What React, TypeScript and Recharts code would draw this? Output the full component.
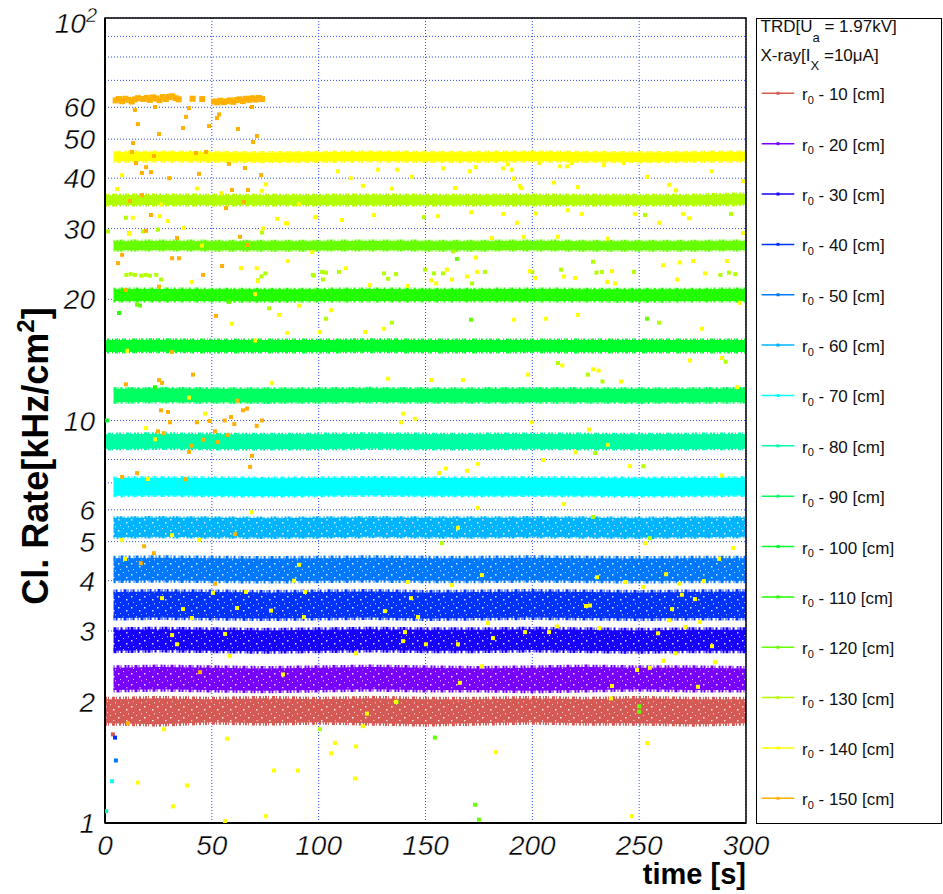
import React from 'react';
import { ComposedChart, Area, Scatter, XAxis, YAxis, CartesianGrid, ReferenceArea, Legend } from 'recharts';

const FONT = '"Liberation Sans", Arial, Helvetica, sans-serif';

const radii = [10, 20, 30, 40, 50, 60, 70, 80, 90, 100, 110, 120, 130, 140, 150];
const colors = ['#d55a55', '#7800ff', '#1800ff', '#0033ff', '#0078ff', '#00b4ff', '#00ffff', '#00ffa5', '#00ff60', '#00ff2a', '#22ff00', '#66ff00', '#b2ff00', '#ffff00', '#ffb000'];

const xMajor = [0, 50, 100, 150, 200, 250, 300];
const xMinor = [10, 20, 30, 40, 60, 70, 80, 90, 110, 120, 130, 140, 160, 170, 180, 190, 210, 220, 230, 240, 260, 270, 280, 290];
const yTicks = [1, 2, 3, 4, 5, 6, 7, 8, 9, 10, 20, 30, 40, 50, 60, 70, 80, 90, 100];
const yLabelled = [1, 2, 3, 4, 5, 6, 10, 20, 30, 40, 50, 60, 100];

// band envelopes (low / high) at these times
const times = [0, 4, 25, 50, 75, 100, 125, 150, 175, 200, 225, 250, 275, 300];
const low10 = [1.77, 1.77, 1.76, 1.78, 1.77, 1.78, 1.77, 1.76, 1.77, 1.78, 1.77, 1.77, 1.76, 1.77];
const high10 = [2.03, 2.03, 2.04, 2.03, 2.04, 2.03, 2.04, 2.03, 2.03, 2.04, 2.03, 2.04, 2.03, 2.03];
const low20 = [null, 2.14, 2.15, 2.14, 2.13, 2.14, 2.15, 2.14, 2.14, 2.13, 2.14, 2.15, 2.14, 2.14];
const high20 = [null, 2.43, 2.44, 2.43, 2.42, 2.43, 2.44, 2.43, 2.42, 2.43, 2.44, 2.43, 2.43, 2.42];
const low30 = [null, 2.68, 2.69, 2.68, 2.67, 2.68, 2.69, 2.68, 2.68, 2.69, 2.68, 2.67, 2.68, 2.68];
const high30 = [null, 3.02, 3.03, 3.02, 3.01, 3.02, 3.03, 3.02, 3.02, 3.03, 3.02, 3.01, 3.02, 3.02];
const low40 = [null, 3.23, 3.24, 3.23, 3.22, 3.23, 3.24, 3.22, 3.23, 3.24, 3.23, 3.22, 3.23, 3.23];
const high40 = [null, 3.75, 3.76, 3.75, 3.74, 3.75, 3.76, 3.74, 3.75, 3.76, 3.75, 3.74, 3.75, 3.76];
const low50 = [null, 4.0, 4.01, 4.0, 3.99, 4.0, 4.01, 4.0, 4.0, 4.01, 4.0, 3.99, 4.0, 4.0];
const high50 = [null, 4.55, 4.56, 4.55, 4.54, 4.55, 4.56, 4.55, 4.55, 4.56, 4.55, 4.54, 4.55, 4.55];
const low60 = [null, 5.13, 5.14, 5.13, 5.12, 5.13, 5.14, 5.13, 5.13, 5.14, 5.13, 5.12, 5.13, 5.14];
const high60 = [null, 5.73, 5.74, 5.73, 5.72, 5.73, 5.74, 5.73, 5.73, 5.74, 5.73, 5.72, 5.73, 5.74];
const low70 = [null, 6.5, 6.51, 6.5, 6.49, 6.5, 6.52, 6.5, 6.5, 6.51, 6.5, 6.49, 6.5, 6.51];
const high70 = [null, 7.2, 7.21, 7.2, 7.19, 7.2, 7.22, 7.2, 7.2, 7.21, 7.2, 7.19, 7.2, 7.21];
const low80 = [8.5, 8.5, 8.52, 8.5, 8.49, 8.5, 8.52, 8.5, 8.5, 8.51, 8.5, 8.49, 8.5, 8.51];
const high80 = [9.25, 9.25, 9.27, 9.25, 9.24, 9.25, 9.27, 9.25, 9.25, 9.26, 9.25, 9.24, 9.25, 9.26];
const low90 = [null, 11.1, 11.12, 11.1, 11.09, 11.1, 11.12, 11.1, 11.1, 11.11, 11.1, 11.09, 11.1, 11.11];
const high90 = [null, 12.0, 12.02, 12.0, 11.99, 12.0, 12.02, 12.0, 12.0, 12.01, 12.0, 11.99, 12.0, 12.01];
const low100 = [14.8, 14.8, 14.82, 14.8, 14.79, 14.8, 14.82, 14.8, 14.8, 14.81, 14.8, 14.79, 14.8, 14.8];
const high100 = [15.85, 15.85, 15.87, 15.85, 15.84, 15.85, 15.87, 15.85, 15.85, 15.86, 15.85, 15.84, 15.85, 15.85];
const low110 = [null, 19.8, 19.82, 19.8, 19.79, 19.8, 19.82, 19.8, 19.8, 19.81, 19.8, 19.79, 19.8, 19.81];
const high110 = [null, 21.2, 21.22, 21.2, 21.19, 21.2, 21.22, 21.2, 21.2, 21.21, 21.2, 21.19, 21.2, 21.21];
const low120 = [null, 26.5, 26.52, 26.5, 26.49, 26.5, 26.52, 26.5, 26.5, 26.51, 26.5, 26.49, 26.5, 26.51];
const high120 = [null, 27.9, 27.92, 27.9, 27.89, 27.9, 27.92, 27.9, 27.9, 27.91, 27.9, 27.89, 27.9, 27.91];
const low130 = [34.3, 34.3, 34.32, 34.3, 34.29, 34.3, 34.32, 34.3, 34.3, 34.31, 34.3, 34.29, 34.3, 34.4];
const high130 = [36.3, 36.3, 36.32, 36.3, 36.29, 36.3, 36.32, 36.3, 36.3, 36.31, 36.3, 36.29, 36.3, 36.6];
const low140 = [null, 44.0, 44.1, 44.0, 43.9, 44.0, 44.1, 44.0, 44.0, 44.1, 44.0, 43.9, 44.0, 44.1];
const high140 = [null, 46.4, 46.5, 46.4, 46.3, 46.4, 46.5, 46.4, 46.4, 46.5, 46.4, 46.3, 46.4, 46.5];

const bandLows = [low10, low20, low30, low40, low50, low60, low70, low80, low90, low100, low110, low120, low130, low140];
const bandHighs = [high10, high20, high30, high40, high50, high60, high70, high80, high90, high100, high110, high120, high130, high140];

// r0 - 150 cm: short band (time, rate)
const band150T = [5, 6.5, 8, 9.5, 11, 12.5, 14, 15.5, 18, 19.5, 21, 22.5, 24, 25.5, 27, 28.5, 30, 31.5, 33, 34.5, 41, 45.5, 51, 52.5, 54, 55.5, 57, 58.5, 60, 61.5, 63, 64.5, 66, 67.5, 69, 70.5, 72, 73.5];
const band150V = [62.4, 62.9, 62.1, 63.0, 62.6, 62.0, 62.8, 63.2, 62.9, 63.3, 62.6, 63.5, 63.1, 62.5, 63.6, 62.9, 63.7, 63.9, 63.2, 62.8, 63.0, 62.9, 62.0, 61.7, 62.3, 61.8, 62.1, 62.4, 61.9, 62.5, 62.8, 62.2, 63.0, 62.6, 63.2, 62.7, 63.3, 62.9];

// isolated points [time, rate]
const stray150 = [[14.0,59.1],[15.4,54.5],[23.4,60.1],[25.3,51.5],[13.1,48.9],[12.6,46.5],[22.9,45.4],[14.5,43.6],[17.3,41.2],[19.2,42.6],[21.5,41.4],[30.0,40.0],[37.9,56.8],[36.5,53.3],[39.3,59.7],[48.7,53.9],[52.4,56.4],[53.4,57.6],[62.2,53.0],[71.1,50.9],[69.3,49.2],[68.8,60.1],[44.0,41.0],[47.3,46.5],[42.6,46.2],[58.0,43.4],[65.5,42.4],[73.0,40.7],[17.3,36.3],[11.7,35.1],[21.5,32.4],[19.2,29.6],[33.7,28.4],[31.4,25.3],[34.6,25.3],[8.0,25.8],[6.1,24.6],[45.9,23.0],[54.8,24.2],[59.4,37.4],[66.9,37.4],[56.6,33.7],[63.2,28.6],[66.9,27.3],[65.0,34.9],[25.3,21.5],[9.8,21.1],[51.9,18.2],[31.4,14.8],[41.2,13.0],[25.3,12.6],[26.7,12.4],[9.8,12.3],[26.2,10.6],[29.5,10.5],[30.4,9.9],[24.8,9.4],[27.5,9.3],[43.0,9.9],[49.0,9.97],[51.5,9.4],[56.0,10.0],[59.0,10.2],[60.5,9.8],[57.6,9.2],[64.6,10.6],[66.5,10.7],[73.5,10.0],[71.0,9.7],[68.8,8.17],[67.9,7.67],[61.8,11.2],[52.9,8.84],[45.9,8.96],[40.7,8.66],[39.3,8.36],[8.0,7.24],[15.0,7.4],[37.9,7.15],[18.3,4.87],[22.9,4.68],[16.8,4.42],[60.8,5.22],[51.5,3.93],[44.5,2.37],[10.8,1.77]];
const stray140 = [[109,41.6],[127.8,42.0],[136.7,42.0],[115,40.0],[120.7,38.3],[134.3,37.7],[143.7,40.3],[158.2,42.3],[170.8,41.6],[173.6,42.6],[186.3,42.3],[188.6,43.3],[190.5,42.0],[191.4,39.9],[194.2,38.3],[194.7,37.8],[163.8,37.8],[203.1,43.6],[210.1,39.0],[213,42.8],[216.2,42.8],[218.6,43.6],[221.4,38.0],[233.5,43.1],[242.9,43.6],[253.7,40.3],[264,38.5],[267.2,37.3],[284,41.6],[298.6,39.3],[5.6,37.6],[8,40.7],[13,31.9],[11.3,29.2],[26.2,34.4],[29.5,31.3],[37,30.1],[43,37.7],[54.3,36.7],[45.4,27.2],[40.7,22.1],[71,23.9],[73.5,37.2],[75.4,38.6],[84.7,30.9],[97,26.2],[98.3,32.0],[112.8,23.9],[124,21.7],[141.8,21.6],[152.6,22.3],[155,21.9],[160,23.7],[162.4,22.4],[169.4,22.8],[173.6,25.4],[174.1,23.4],[198.9,23.5],[201.2,22.6],[214.8,22.8],[220,22.6],[235,22.1],[237.3,23.5],[238.7,21.9],[261.2,24.3],[269,24.7],[275.2,24.9],[267.7,22.4],[280.8,23.2],[291,24.9],[85.6,24.9],[63.6,23.9],[71.6,22.2],[98.8,32.0],[110.9,31.5],[125.9,32.4],[155.8,32.2],[171.3,32.9],[186.3,32.6],[192.8,31.0],[201.7,32.7],[216.7,33.3],[223.2,32.6],[248,32.6],[259.3,31.0],[270.5,32.6],[273.3,31.8],[298.6,29.2],[196,28.6],[181.1,28.4],[212,28.6],[235.4,28.3],[73.9,30.0],[80.5,31.7],[85.2,30.9],[90.8,34.5],[25.7,32.2],[11.2,29.1],[100.6,16.6],[105.8,18.8],[121.7,16.6],[130.6,16.9],[191.4,17.8],[206.4,17.9],[221.4,18.3],[279.4,16.9],[297.2,19.6],[70.2,20.6],[81.4,18.3],[90.8,19.3],[85.2,16.5],[59.4,17.4],[70.2,15.8],[78.2,12.4],[10.3,14.9],[132.5,12.7],[152.6,12.6],[167.5,12.6],[198,13.0],[228.4,13.4],[231,13.3],[241.5,12.5],[273.8,14.1],[288.8,14.3],[295.8,12.1],[214,13.7],[39.3,11.4],[139.5,10.4],[138.5,9.9],[145,10.1],[199.8,9.9],[226.5,9.5],[46.8,10.4],[23.4,8.98],[19.2,9.57],[220.4,8.34],[235.4,8.7],[205,7.98],[245.7,7.7],[174.6,7.8],[169.4,7.5],[159.6,7.6],[156.3,7.4],[288.8,7.3],[20.1,7.16],[214.8,6.2],[174.6,6.07],[68.8,5.92],[44,5.05],[31.4,5.19],[8,5.05],[165.2,5.41],[252.7,4.96],[293.9,4.82],[287.4,4.53],[9.4,4.53],[90.8,4.38],[176.4,4.13],[230.3,4.08],[262.6,4.15],[141.8,3.97],[162.4,3.9],[243.4,3.97],[251.8,3.86],[268.6,3.93],[280.3,3.99],[88.5,4.0],[50.5,3.73],[66,3.75],[93.6,3.75],[270,3.69],[276.1,3.6],[143.2,3.62],[225.1,3.46],[131,3.36],[146.5,3.25],[227,3.47],[265.4,3.4],[278.5,3.16],[271.5,3.07],[179.2,3.14],[211.5,3.08],[26.7,3.62],[36.5,3.4],[40.7,3.23],[61.8,3.42],[93.1,3.25],[77.7,3.37],[140.4,2.98],[139.5,2.83],[150.2,2.78],[165.2,2.78],[181.6,2.88],[196.6,2.98],[207.8,2.98],[231.2,3.05],[258.8,2.96],[264,3.19],[284.1,2.75],[31.4,2.93],[33.7,2.78],[56.2,2.95],[117.5,2.64],[266.8,2.64],[261.2,2.53],[285.5,2.51],[255,2.43],[249,2.4],[176.4,2.45],[58.5,2.6],[83.3,2.34],[166.1,2.23],[237.3,2.19],[277.5,2.18],[236.8,2.04],[136.2,2.0],[253.7,1.58],[183,1.5],[246.6,1.04],[15.4,1.26],[31.8,1.1],[38.4,1.24],[56.2,1.01],[57.1,1.62],[75.4,1.04],[79.1,1.35],[90.3,1.35],[105.8,1.49],[107.6,1.58],[117.5,1.55],[117,1.29],[120.7,1.74],[122.6,1.87],[27.6,1.71]];
const stray130 = [[9.8,31.9],[17.8,29.5],[1.4,29.5],[24.8,29.8],[73.5,29.3],[149.3,32.0],[252.7,32.4],[293,32.6],[10,23.0],[12,23.1],[14,23.0],[17,22.9],[19,23.0],[21,22.9],[24,23.0],[26.2,22.4],[75,23.2],[73.2,22.8],[71.6,22.3],[76.8,19.0],[97.3,23.0],[101.6,23.4],[103.4,23.3],[109.5,23.4],[97.8,22.9],[102,22.4],[130.6,23.2],[132.5,22.5],[136.2,23.1],[149.8,23.7],[154,23.2],[158.2,23.2],[162.9,26.3],[171.8,21.9],[177.8,23.4],[200,23.4],[213.4,23.7],[228.4,24.8],[230,23.3],[232.6,23.4],[247.6,23.4],[288,23.0],[292,23.3],[295,23.1],[103.4,17.9],[134.3,17.5],[259.3,17.5],[100.6,1.71],[212,13.9],[226,13.0],[232.8,12.5],[290.5,14.0],[228.4,5.76],[157.7,4.96],[255,5.1],[229.5,8.3],[252,7.7]];
const stray120 = [[173.2,1.11],[175,1.02],[154.4,1.63],[250,1.89],[250,1.95],[15,19.4],[16.4,19.3],[58,19.7],[171.3,17.8],[253.7,17.9],[164.7,25.2],[136.5,2.0]];
const stray110 = [[6.6,18.5],[23.4,12.1]];
const stray100 = [[1,10.0]];
const stray80 = [[0.5,1.07]];
const stray70 = [[3.3,1.27]];
const stray50 = [[5.1,1.43]];
const stray40 = [[4.7,1.63]];
const stray10 = [[3.7,1.66]];

const legendTitle1 = ['TRD[U', 'a', ' = 1.97kV]'];
const legendTitle2 = ['X-ray[I', 'X', ' =10\u03bcA]'];

const bandRows = times.map((t, i) => {
  const row: any = { t };
  radii.slice(0, 14).forEach((r, k) => {
    row['lo' + r] = bandLows[k][i];
    row['hi' + r] = bandHighs[k][i];
  });
  return row;
});

const toPts = (arr: number[][]) => arr.map(([t, v]) => ({ t, v }));
const band150 = band150T.map((t, i) => ({ t, v: band150V[i] }));

const strayGroups: [number, number[][]][] = [
  [10, stray10], [40, stray40], [50, stray50], [70, stray70], [80, stray80], [100, stray100],
  [110, stray110], [120, stray120], [130, stray130], [140, stray140], [150, stray150],
];

const colorOf = (r: number) => colors[radii.indexOf(r)];

// edge raggedness styles
const dashes = ['2 1 1 3 3 1 1 2 2 2 1 1', '1 2 3 1 1 3 2 1 2 2', '3 1 1 2 2 3 1 1 2 1', '1 1 2 3 1 2 3 1 1 2', '2 3 1 1 3 2 1 2', '1 2 2 1 3 1 1 3'];

const sq = (size: number, color: string) => (p: any) => (
  <rect x={p.cx - size / 2} y={p.cy - size / 2} width={size} height={size} fill={color} />
);

const labelStyle = { fontFamily: FONT, fontStyle: 'italic', fontSize: 28, fill: '#000', stroke: '#fff', strokeWidth: 0.4 } as const;

const YTick = (p: any) => {
  const v = p.payload.value;
  if (!yLabelled.includes(v)) return <g />;
  if (v === 100) {
    return (
      <text x={p.x - 8} y={p.y + 15} textAnchor="end" {...labelStyle}>
        10<tspan dy={-11} fontSize={20}>2</tspan>
      </text>
    );
  }
  return (
    <text x={p.x - 10} y={p.y} dy="0.36em" textAnchor="end" {...labelStyle}>
      {v}
    </text>
  );
};

const XTick = (p: any) => (
  <text x={p.x} y={p.y + 32} textAnchor="middle" {...labelStyle}>
    {p.payload.value}
  </text>
);

const YTitle = () => {
  const cy = 456;
  return (
    <text x={48} y={cy} transform={`rotate(-90, 48, ${cy})`} textAnchor="middle" fontFamily={FONT} fontWeight="bold" fontSize={36} fill="#000">
      Cl. Rate[kHz/cm<tspan dy={-14} fontSize={24}>2</tspan><tspan dy={14}>]</tspan>
    </text>
  );
};

const XTitle = () => (
  <text x={746} y={884} textAnchor="end" fontFamily={FONT} fontWeight="bold" fontSize={29} fill="#000">
    time [s]
  </text>
);

const LegendBox = () => (
  <svg width={186} height={806} style={{ display: 'block' }}>
    <rect x={0.5} y={0.5} width={185} height={805} fill="#fff" stroke="#000" strokeWidth={1} />
    <text x={4.5} y={14} fontFamily={FONT} fontSize={17} fill="#111">
      {legendTitle1[0]}<tspan dy={10} fontSize={13}>{legendTitle1[1]}</tspan><tspan dy={-10}>{legendTitle1[2]}</tspan>
    </text>
    <text x={4.5} y={43} fontFamily={FONT} fontSize={17} fill="#111">
      {legendTitle2[0]}<tspan dy={9} fontSize={13}>{legendTitle2[1]}</tspan><tspan dy={-9}>{legendTitle2[2]}</tspan>
    </text>
    {radii.map((r, i) => {
      const y = 75.3 + 50.36 * i;
      return (
        <g key={r}>
          <line x1={5.7} x2={38.3} y1={y} y2={y} stroke={colors[i]} strokeWidth={1.5} />
          <rect x={20.5} y={y - 1.5} width={3} height={3} fill={colors[i]} />
          <text x={46} y={y + 7} fontFamily={FONT} fontSize={17} fill="#111">
            r<tspan dy={3.5} fontSize={11}>0</tspan><tspan dy={-3.5}>{` - ${r} [cm]`}</tspan>
          </text>
        </g>
      );
    })}
  </svg>
);

export default function App() {
  return (
    <div style={{ position: 'absolute', left: 0, top: 0, width: 943, height: 894, background: '#fff' }}>
      <ComposedChart width={943} height={894} data={bandRows} margin={{ top: 18, right: 10, bottom: 0, left: 0 }}>
        <defs>
          {radii.slice(0, 6).map((r, k) => (
            <pattern key={r} id={'spk' + r} width={13} height={11} patternUnits="userSpaceOnUse">
              <rect x={0} y={0} width={13} height={11} fill={colors[k]} />
              <rect x={1} y={2} width={1.5} height={1.5} fill="#fff" opacity={0.85} />
              <rect x={6} y={0} width={1} height={1} fill="#fff" opacity={0.7} />
              <rect x={9} y={5} width={1.5} height={1.5} fill="#fff" opacity={0.85} />
              <rect x={3} y={8} width={1} height={1} fill="#fff" opacity={0.7} />
              <rect x={11} y={9} width={1} height={1.5} fill="#fff" opacity={0.6} />
            </pattern>
          ))}
        </defs>
        <CartesianGrid xAxisId="x" yAxisId="y" stroke="#2f52ff" strokeDasharray="1 2" strokeWidth={1} />
        <XAxis xAxisId="x" dataKey="t" type="number" domain={[0, 300]} allowDataOverflow ticks={xMajor} interval={0}
          height={71} tickLine={false} tickSize={0} tickMargin={0} axisLine={{ stroke: '#000', strokeWidth: 2 }} tick={<XTick />}
          label={<XTitle />} />
        <XAxis xAxisId="xbM" type="number" domain={[0, 300]} allowDataOverflow ticks={xMajor} interval={0} orientation="bottom" mirror
          tickSize={19} tick={false} axisLine={false} tickLine={{ stroke: '#000', strokeWidth: 1.5 }} />
        <XAxis xAxisId="xbm" type="number" domain={[0, 300]} allowDataOverflow ticks={xMinor} interval={0} orientation="bottom" mirror
          tickSize={9} tick={false} axisLine={false} tickLine={{ stroke: '#000', strokeWidth: 1.5 }} />
        <XAxis xAxisId="xtM" type="number" domain={[0, 300]} allowDataOverflow ticks={xMajor} interval={0} orientation="top" mirror
          tickSize={18} tick={false} axisLine={false} tickLine={{ stroke: '#000', strokeWidth: 1.5 }} />
        <XAxis xAxisId="xtm" type="number" domain={[0, 300]} allowDataOverflow ticks={xMinor} interval={0} orientation="top" mirror
          tickSize={9} tick={false} axisLine={false} tickLine={{ stroke: '#000', strokeWidth: 1.5 }} />
        <YAxis yAxisId="y" dataKey="v" type="number" scale="log" domain={[1, 100]} allowDataOverflow ticks={yTicks} interval={0}
          width={105} tickLine={false} tickSize={0} tickMargin={0} axisLine={{ stroke: '#000', strokeWidth: 2 }} tick={<YTick />}
          label={<YTitle />} />
        <YAxis yAxisId="yl" type="number" scale="log" domain={[1, 100]} allowDataOverflow ticks={yTicks} interval={0} orientation="left" mirror
          tickSize={12} tick={false} axisLine={false} tickLine={{ stroke: '#c8c8c8', strokeWidth: 1.5 }} />
        <YAxis yAxisId="yr" type="number" scale="log" domain={[1, 100]} allowDataOverflow ticks={yTicks} interval={0} orientation="right" mirror
          tickSize={12} tick={false} axisLine={false} tickLine={{ stroke: '#c8c8c8', strokeWidth: 1.5 }} />

        {radii.slice(0, 14).map((r, k) => (
          <Area key={'band' + r} xAxisId="x" yAxisId="y" type="linear"
            dataKey={(d: any) => (d['lo' + r] == null ? null : [d['lo' + r], d['hi' + r]])}
            fill={k < 6 ? `url(#spk${r})` : colors[k]} fillOpacity={1} stroke={colors[k]} strokeWidth={k < 5 ? 5 : 3}
            strokeDasharray={dashes[k % dashes.length]} isAnimationActive={false} dot={false} activeDot={false} legendType="none" />
        ))}

        {strayGroups.map(([r, pts]) => (
          <Scatter key={'stray' + r} xAxisId="x" yAxisId="y" data={toPts(pts)} fill={colorOf(r)}
            shape={sq(4, colorOf(r))} isAnimationActive={false} legendType="none" />
        ))}
        <Scatter xAxisId="x" yAxisId="y" data={band150} fill={colorOf(150)} shape={sq(6, colorOf(150))}
          isAnimationActive={false} legendType="none" />

        <ReferenceArea xAxisId="x" yAxisId="y" x1={0} x2={300} y1={1} y2={100} fill="none" stroke="#000" strokeWidth={1.5} ifOverflow="visible" />
        <Legend layout="vertical" align="right" verticalAlign="top" width={187} content={<LegendBox />}
          wrapperStyle={{ left: 756, top: 18, width: 187, height: 806 }} />
      </ComposedChart>
    </div>
  );
}
